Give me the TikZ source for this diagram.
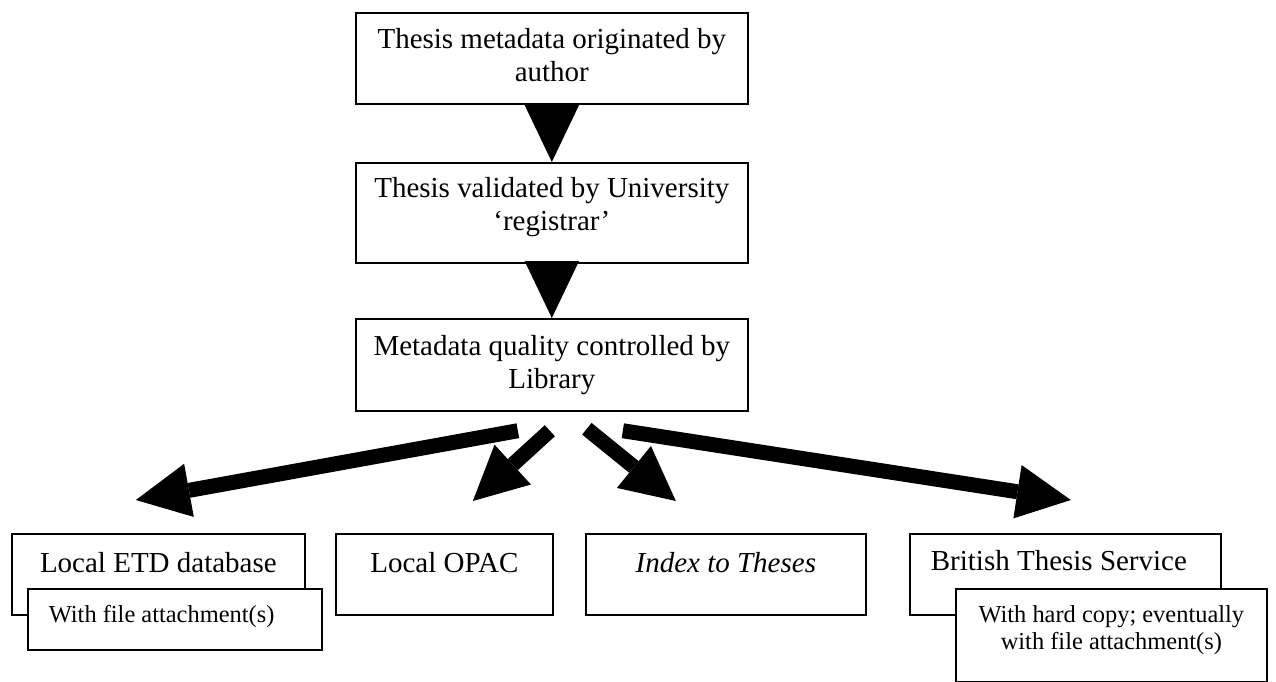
\documentclass[tikz,border=0pt]{standalone}
\usepackage{fontspec}
\setmainfont{Liberation Serif}
\usetikzlibrary{arrows.meta, calc}

\begin{document}
\begin{tikzpicture}[x=0.02cm, y=-0.02cm,
    box/.style={draw, line width=1pt, inner sep=0pt, fill=white, anchor=north west, font=\fontsize{16.5}{18.8}\selectfont},
    mainbox/.style={box, text width=7.84cm, align=flush center},
    outbox/.style={box, align=flush center, text height=0.78cm, text depth=0.84cm},
    notebox/.style={box, font=\fontsize{13.9}{15.4}\selectfont, text height=0.68cm},
    fat/.style={line width=0.3cm, -{Triangle[width=1.08cm, length=1.08cm, line width=0pt]}},
    drop/.style={line width=0.1pt, -{Triangle[width=1.09cm, length=1.14cm, line width=0pt]}}]

\useasboundingbox (0,0) rectangle (1276,682);

\node[mainbox, text height=0.72cm, text depth=1.1cm] (meta) at (355,12) {Thesis metadata originated by\\author};
\node[mainbox, text height=0.7cm, text depth=1.3cm] (valid) at (355,162) {Thesis validated by University\\`registrar'};
\node[mainbox, text height=0.74cm, text depth=1.1cm] (qual) at (355,318) {Metadata quality controlled by\\Library};

\draw[drop] (meta.south) -- (valid.north);
\draw[drop] (valid.south) -- (qual.north);

\node[outbox, text width=5.86cm] (etd) at (11,533) {Local ETD database};
\node[outbox, text width=4.34cm] (opac) at (335,533) {Local OPAC};
\node[outbox, text width=5.6cm] (index) at (585,533) {\textit{Index to Theses}};
\node[outbox, text width=5.38cm, inner xsep=0.42cm, align=flush left, text height=0.74cm, text depth=0.88cm] (bts) at (909,533) {British Thesis Service};

\node[notebox, text width=5.04cm, inner xsep=0.42cm, align=flush left, text depth=0.54cm] (etdfile) at (27,588) {With file attachment(s)};
\node[notebox, text width=6.22cm, align=flush center, text depth=1.18cm] (btsfile) at (955,588) {With hard copy; eventually\\with file attachment(s)};

\draw[fat] ($(qual.south)+(-34,19)$) -- ($(etd.north)+(-22.5,-33)$);
\draw[fat] ($(qual.south)+(-2,19)$) -- ($(opac.north)+(28.5,-32)$);
\draw[fat] ($(qual.south)+(35,17)$) -- ($(index.north)+(-50,-32)$);
\draw[fat] ($(qual.south)+(71,19)$) -- ($(bts.north)+(5.5,-33)$);
\end{tikzpicture}
\end{document}
